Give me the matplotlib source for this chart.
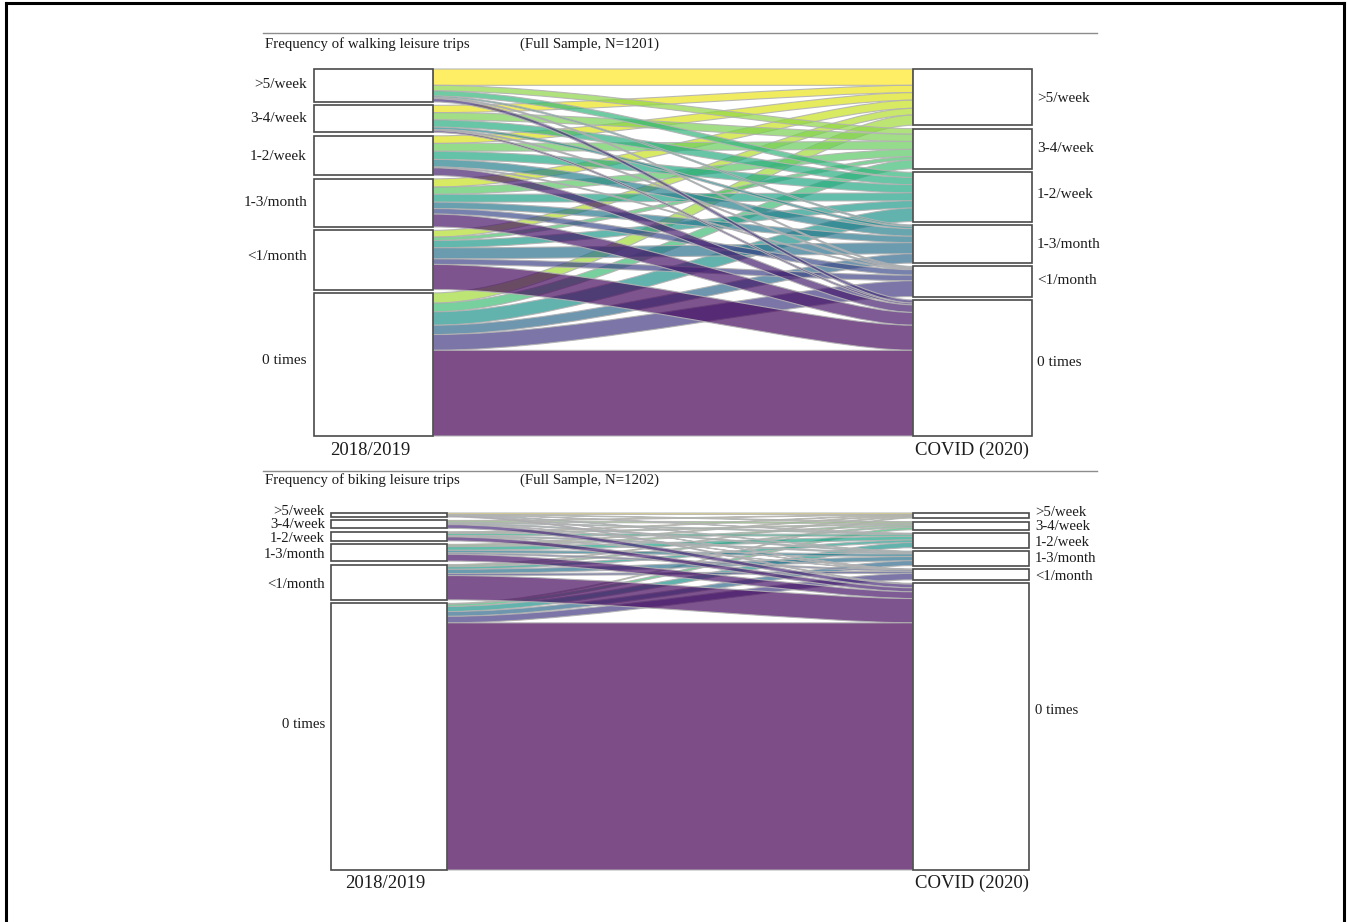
import numpy as np
import matplotlib
matplotlib.use("Agg")
import matplotlib.pyplot as plt
from matplotlib.path import Path
from matplotlib.patches import PathPatch, Rectangle

plt.rcParams["font.family"] = ["Liberation Serif", "DejaVu Serif"]

# 1) Categories and labels
categories = [">5/week", "3-4/week", "1-2/week", "1-3/month", "<1/month", "0 times"]
periods = ["2018/2019", "COVID (2020)"]
walk_title = "Frequency of walking leisure trips"
bike_title = "Frequency of biking leisure trips"
walk_sample = "(Full Sample, N=1201)"
bike_sample = "(Full Sample, N=1202)"

# 2) Respondents moving between categories (row = before, column = during COVID)
walk_gt5 = [56, 19, 18, 5, 4, 11]
walk_34w = [25, 25, 25, 8, 4, 6]
walk_12w = [26, 27, 28, 26, 3, 26]
walk_13m = [28, 25, 27, 22, 19, 44]
walk_lt1 = [23, 12, 25, 38, 19, 86]
walk_zero = [35, 30, 46, 32, 54, 294]

bike_gt5 = [5, 2, 1, 2, 1, 3]
bike_34w = [2, 5, 3, 4, 1, 13]
bike_12w = [2, 4, 7, 4, 1, 14]
bike_13m = [3, 5, 13, 9, 5, 24]
bike_lt1 = [3, 5, 9, 15, 7, 86]
bike_zero = [3, 8, 18, 17, 23, 875]

walk = np.array([walk_gt5, walk_34w, walk_12w, walk_13m, walk_lt1, walk_zero], dtype=float)
bike = np.array([bike_gt5, bike_34w, bike_12w, bike_13m, bike_lt1, bike_zero], dtype=float)

# 3) Figure in pixels
W, H = 1347, 922
fig = plt.figure(figsize=(W / 100, H / 100), dpi=100)


def px_text(x, y, s, **kw):
    kw.setdefault("va", "center")
    fig.text(x / W, 1 - (y + 1) / H, s, color="#1c1c1c", **kw)


def px_line(x0, x1, y0, y1, color, lw):
    fig.add_artist(plt.Line2D([x0 / W, x1 / W], [1 - y0 / H, 1 - y1 / H],
                              color=color, lw=lw, transform=fig.transFigure))


def alluvial(flows, x0, x1, y0, y1, box_w, flow_left, gap_px):
    ax = fig.add_axes([x0 / W, 1 - y1 / H, (x1 - x0) / W, (y1 - y0) / H])
    total = flows.sum()
    gap = gap_px * total / ((y1 - y0) - 5 * gap_px)
    ax.set_xlim(x0, x1)
    ax.set_ylim(total + 5 * gap, 0)
    ax.axis("off")

    left_sizes = flows.sum(axis=1)
    right_sizes = flows.sum(axis=0)
    left_tops = np.cumsum(np.r_[0, left_sizes[:-1] + gap])
    right_tops = np.cumsum(np.r_[0, right_sizes[:-1] + gap])

    # start of every flow inside its box
    left_start = left_tops[:, None] + np.c_[np.zeros(6), np.cumsum(flows, axis=1)[:, :-1]]
    right_start = right_tops[None, :] + np.r_[np.zeros((1, 6)), np.cumsum(flows, axis=0)[:-1, :]]

    colors = plt.cm.viridis_r(np.linspace(0, 1, 36))
    xa, xb = flow_left, x1 - box_w
    c1 = xa + 0.32 * (xb - xa)
    c2 = xa + 0.8 * (xb - xa)
    codes = [Path.MOVETO, Path.CURVE4, Path.CURVE4, Path.CURVE4, Path.LINETO,
             Path.CURVE4, Path.CURVE4, Path.CURVE4, Path.CLOSEPOLY]
    for d in range(6):
        for s in range(6):
            h = flows[s, d]
            ya, yb = left_start[s, d], right_start[s, d]
            verts = [(xa, ya), (c1, ya), (c2, yb), (xb, yb), (xb, yb + h),
                     (c2, yb + h), (c1, ya + h), (xa, ya + h), (xa, ya)]
            c = colors[d * 6 + s]
            ax.add_patch(PathPatch(Path(verts, codes), facecolor=(c[0], c[1], c[2], 0.7),
                                   edgecolor=(0.7, 0.7, 0.7, 0.9), lw=0.8, clip_on=False))

    for i in range(6):
        ax.add_patch(Rectangle((x0, left_tops[i]), box_w, left_sizes[i], facecolor="white",
                               edgecolor="#4a4a4a", lw=1.2, clip_on=False, zorder=5))
        ax.add_patch(Rectangle((x1 - box_w, right_tops[i]), box_w, right_sizes[i],
                               facecolor="white", edgecolor="#4a4a4a", lw=1.2, clip_on=False, zorder=5))


# 4) The two panels
alluvial(walk, 314, 1032, 69, 436, 119, 433, 3.4)
alluvial(bike, 331, 1029, 513, 870, 116, 447, 3.5)

# 5) Rules and outer frame
px_line(263, 1097, 33, 33, "#8c8c8c", 1.0)
px_line(263, 1097, 471, 471, "#8c8c8c", 1.0)
px_line(6, 6, 3, 922, "black", 2.2)
px_line(1344, 1344, 3, 922, "black", 2.2)
px_line(6, 1344, 3, 3, "black", 2.2)

# 6) Texts
px_text(265, 43, walk_title, fontsize=10.7)
px_text(520, 43, walk_sample, fontsize=10.7)
px_text(265, 479, bike_title, fontsize=10.7)
px_text(520, 479, bike_sample, fontsize=10.7)

walk_left_y = [84, 118, 155, 201, 255, 359]
walk_right_y = [97, 147, 193, 243, 279, 362]
bike_left_y = [510, 523, 537, 554, 583, 723]
bike_right_y = [512, 526, 541, 557, 575, 710]
for i, cat in enumerate(categories):
    px_text(307, walk_left_y[i], cat, fontsize=11, ha="right")
    px_text(1037, walk_right_y[i], cat, fontsize=11, ha="left")
    px_text(325, bike_left_y[i], cat, fontsize=10.6, ha="right")
    px_text(1035, bike_right_y[i], cat, fontsize=10.6, ha="left")

px_text(370, 449, periods[0], fontsize=13.5, ha="center")
px_text(972, 449, periods[1], fontsize=13.5, ha="center")
px_text(385, 882, periods[0], fontsize=13.5, ha="center")
px_text(972, 882, periods[1], fontsize=13.5, ha="center")

plt.savefig("out.png", dpi=100)
